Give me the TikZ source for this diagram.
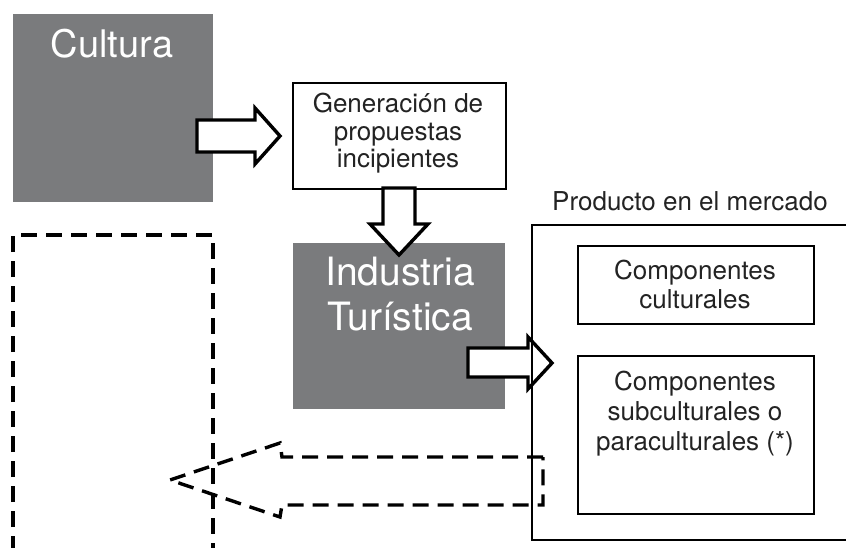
\documentclass[tikz,border=0pt]{standalone}
\usepackage{fontspec}
\setmainfont{TeX Gyre Heros}
\definecolor{boxgray}{RGB}{122,123,125}
\definecolor{textgray}{RGB}{35,35,35}
\begin{document}
\begin{tikzpicture}[x=1pt,y=-1pt,
  graybox/.style={fill=boxgray, draw=none, inner sep=0pt, anchor=north west},
  linebox/.style={draw=black, line width=2.4pt, fill=white, inner sep=0pt, anchor=north west},
  blockarrow/.style={draw=black, line width=3.4pt, fill=white, line join=miter},
  dashline/.style={draw=black, line width=3.4pt, dash pattern=on 16pt off 9pt},
  bigtxt/.style={font=\fontsize{38}{45}\selectfont, text=white, inner sep=0pt, align=center},
  smalltxt/.style={font=\fontsize{26}{29}\selectfont, text=textgray, inner sep=0pt, align=center}]
\useasboundingbox (0,0) rectangle (846,547);

% gray boxes
\node[graybox, minimum width=200pt, minimum height=188pt] (cultura) at (13,14) {};
\node[bigtxt, anchor=base] (culturaT) at (112,57) {Cultura};
\node[graybox, minimum width=212pt, minimum height=166pt] (industria) at (293,243) {};

% generation box
\node[linebox, minimum width=213pt, minimum height=106pt] (gen) at (292,82) {};
\node[smalltxt, anchor=north, font=\fontsize{26}{27.5}\selectfont] (genT) at (398,93) {Generación de\\propuestas\\incipientes};

% block arrows
\draw[blockarrow] (197,120) -- (255,120) -- (255,108) -- (280,136) -- (255,164) -- (255,152) -- (197,152) -- cycle;
\draw[blockarrow] (383,188) -- (383,224) -- (370,224) -- (399,255) -- (428,224) -- (415,224) -- (415,188) -- cycle;
\draw[blockarrow] (468,348) -- (528,348) -- (528,337) -- (552,363) -- (528,389) -- (528,377) -- (468,377) -- cycle;

\node[bigtxt, anchor=north, font=\fontsize{39}{45}\selectfont] (industriaT) at (400,257) {Industria\\Turística};

% market product box
\node[smalltxt, anchor=base west] (prodT) at (552,210) {Producto en el mercado};
\coordinate (bigTR) at (850,225);
\coordinate (bigTL) at (532,225);
\coordinate (bigBL) at (532,540);
\coordinate (bigBR) at (850,540);
\draw[line width=2.4pt] (bigTR) -- (bigTL) -- (bigBL) -- (bigBR);

\node[linebox, minimum width=236pt, minimum height=78pt] (comp1) at (577,245) {};
\node[smalltxt, anchor=north] (comp1T) at (695,260) {Componentes\\culturales};
\node[linebox, minimum width=236pt, minimum height=158pt] (comp2) at (577,355) {};
\node[smalltxt, anchor=north, font=\fontsize{26}{30}\selectfont] (comp2T) at (695,371) {Componentes\\subculturales o\\paraculturales (*)};

% dashed open rectangle
\coordinate (dBL) at (13,552);
\coordinate (dTL) at (13,235);
\coordinate (dTR) at (213,235);
\coordinate (dBR) at (213,552);
\draw[dashline] (dBL) -- (dTL) -- (dTR) -- (dBR);

% dashed return arrow
\draw[dashline] (543,457) -- (282,457) -- (280,443) -- (170,480) -- (280,517) -- (282,505) -- (543,505) -- cycle;
\end{tikzpicture}
\end{document}
